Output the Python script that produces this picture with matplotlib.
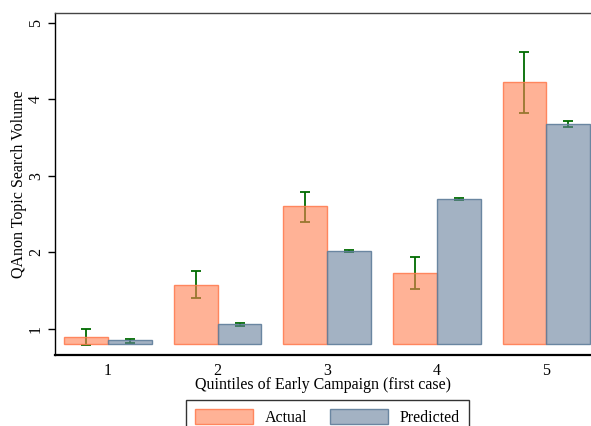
import matplotlib
matplotlib.use("Agg")
import matplotlib.pyplot as plt
import numpy as np
from matplotlib.patches import Patch

quintiles = [1, 2, 3, 4, 5]
actual = [0.89, 1.58, 2.60, 1.73, 4.22]
actual_lo = [0.79, 1.40, 2.40, 1.52, 3.82]
actual_hi = [1.00, 1.76, 2.79, 1.94, 4.62]
predicted = [0.85, 1.06, 2.02, 2.70, 3.68]
predicted_lo = [0.82, 1.04, 2.01, 2.69, 3.64]
predicted_hi = [0.87, 1.08, 2.03, 2.71, 3.72]
yticks = [1, 2, 3, 4, 5]

plt.rcParams['font.family'] = ['Liberation Serif', 'DejaVu Serif']

W, H = 591, 426
fig = plt.figure(figsize=(W / 100, H / 100), dpi=100)
ax = fig.add_axes([55 / W, (H - 355) / H, (W - 55) / W, (355 - 13) / H])

base = 0.8
width = 0.4
x = np.array(quintiles, dtype=float)

act_face = (1.0, 127 / 255, 80 / 255, 0.6)
act_edge = (1.0, 120 / 255, 75 / 255, 0.85)
pred_face = (102 / 255, 128 / 255, 155 / 255, 0.6)
pred_edge = (95 / 255, 125 / 255, 155 / 255, 0.9)
green = (0.0, 0.42, 0.0)

a = np.array(actual); al = np.array(actual_lo); ah = np.array(actual_hi)
p = np.array(predicted); pl = np.array(predicted_lo); ph = np.array(predicted_hi)

ax.errorbar(x - width / 2, a, yerr=[a - al, ah - a], fmt='none', ecolor=green,
            elinewidth=1.3, capsize=3.3, capthick=1.3, zorder=1)
ax.errorbar(x + width / 2, p, yerr=[p - pl, ph - p], fmt='none', ecolor=green,
            elinewidth=1.3, capsize=3.3, capthick=1.3, zorder=1)

ax.bar(x - width / 2, a - base, width=width, bottom=base, facecolor=act_face,
       edgecolor=act_edge, linewidth=1.0, zorder=2)
ax.bar(x + width / 2, p - base, width=width, bottom=base, facecolor=pred_face,
       edgecolor=pred_edge, linewidth=1.0, zorder=2)

ax.set_xlim(0.516, 5.407)
ax.set_ylim(0.66, 5.127)
ax.set_xticks(quintiles)
ax.set_xticklabels([str(q) for q in quintiles])
ax.set_yticks(yticks)
ax.set_yticklabels([str(t) for t in yticks], rotation=90, va='center')

ax.spines['right'].set_visible(False)
ax.spines['left'].set_linewidth(1.0)
ax.spines['bottom'].set_linewidth(1.6)
ax.spines['top'].set_linewidth(1.0)
ax.spines['top'].set_color('#444444')
ax.tick_params(axis='x', length=0, pad=5.5, labelsize=11.5)
ax.tick_params(axis='y', length=5, width=1.0, pad=3, labelsize=11.5, direction='out')

ax.set_xlabel('Quintiles of Early Campaign (first case)', fontsize=11.5, labelpad=-1)
ax.set_ylabel('QAnon Topic Search Volume', fontsize=11.5, labelpad=1)

handles = [Patch(facecolor=act_face, edgecolor=act_edge, linewidth=1.0, label='Actual'),
           Patch(facecolor=pred_face, edgecolor=pred_edge, linewidth=1.0, label='Predicted')]
leg = fig.legend(handles=handles, loc='upper center', bbox_to_anchor=(327.5 / W, 1 - 400 / H),
                 ncol=2, frameon=True, fancybox=False, fontsize=11.5, handlelength=3.6,
                 handleheight=1.1, columnspacing=1.45, borderpad=0.55, handletextpad=0.75,
                 borderaxespad=0)
leg.get_frame().set_edgecolor('black')
leg.get_frame().set_linewidth(1.0)

fig.savefig('out.png', dpi=100)
